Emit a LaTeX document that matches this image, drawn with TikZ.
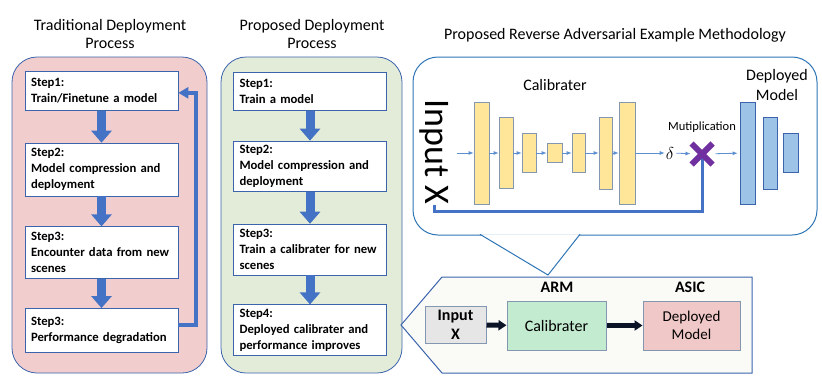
\documentclass[tikz,border=0pt]{standalone}
\usepackage{fontspec}
\setmainfont{Carlito}
\usetikzlibrary{arrows.meta,positioning,shapes.misc}
\definecolor{Blue}{HTML}{4472C4}
\definecolor{SoftBlue}{HTML}{5B8FD0}
\definecolor{Frame}{HTML}{3B64AD}
\definecolor{CalloutLine}{HTML}{2E75B6}
\definecolor{PanelPink}{HTML}{F2CDCD}
\definecolor{PanelGreen}{HTML}{E2ECD8}
\definecolor{Gold}{HTML}{FFE699}
\definecolor{GoldLine}{HTML}{8497B0}
\definecolor{Sky}{HTML}{9DC3E6}
\definecolor{Purple}{HTML}{7030A0}
\definecolor{Mint}{HTML}{C3EBD0}
\definecolor{Rose}{HTML}{F1C8C8}
\definecolor{Stone}{HTML}{E6E6E6}
\definecolor{Paper}{HTML}{FAFBF7}
\definecolor{Ink}{HTML}{0B1426}
\tikzset{
  panel/.style={rounded corners=25pt,draw=Frame,line width=0.8pt,minimum height=316pt,inner sep=0pt},
  heading/.style={align=center,font=\fontsize{16}{18.5}\selectfont},
  stepbox/.style={draw=Frame,fill=white,line width=0.7pt,text width=141pt,inner xsep=6pt,inner ysep=4pt,align=left,font=\fontsize{12.7}{16}\selectfont\bfseries},
  blockarrow/.style={-{Triangle[length=12pt,width=20pt]},line width=9pt,draw=Blue},
  feedback/.style={-{Triangle[length=10pt,width=11pt]},line width=4pt,draw=Blue},
  calloutbox/.style={rounded corners=25pt,draw=CalloutLine,fill=white,line width=1pt,inner sep=0pt},
  calloutpointer/.style={draw=CalloutLine,fill=white,line width=1pt},
  goldbar/.style={draw=GoldLine,fill=Gold,line width=0.8pt,inner sep=0pt},
  skybar/.style={draw=Frame,fill=Sky,line width=0.8pt,inner sep=0pt},
  thinarrow/.style={-{Latex[length=5pt,width=4pt]},draw=SoftBlue,line width=0.8pt},
  skipline/.style={draw=Blue,line width=3pt},
  mult/.style={cross out,draw=Purple,line width=6pt,minimum size=15pt,inner sep=0pt},
  labeltext/.style={align=center,font=\fontsize{16}{20}\selectfont},
  hwframe/.style={draw=Frame,fill=Paper,line width=1pt},
  hwbox/.style={draw=GoldLine,line width=1pt,align=center,font=\fontsize{15}{18}\selectfont},
  hwarrow/.style={-{Triangle[length=8pt,width=10pt]},line width=5pt,draw=Ink}
}
\begin{document}
\begin{tikzpicture}[x=1pt,y=1pt,node distance=30pt]
  \useasboundingbox (0,0) rectangle (822,-391);

  \node[heading] (tradtitle) at (110,-34) {Traditional Deployment\\Process};
  \node[heading] (proptitle) at (312,-34) {Proposed Deployment\\Process};
  \node[heading] (methodtitle) at (615,-35) {Proposed Reverse Adversarial Example Methodology};

  \node[panel,fill=PanelPink,minimum width=195pt] (trad) at (109.5,-215) {};
  \node[panel,fill=PanelGreen,minimum width=181pt] (prop) at (311.5,-215) {};

  \node[stepbox,anchor=north,minimum height=39pt] (t1) at (101.5,-71) {Step1:\\Train/Finetune a model};
  \node[stepbox,minimum height=53pt,below=32pt of t1] (t2) {Step2:\\Model compression and\\deployment};
  \node[stepbox,minimum height=52pt,below=of t2] (t3) {Step3:\\Encounter data from new\\scenes};
  \node[stepbox,minimum height=44pt,below=29pt of t3] (t4) {Step3:\\Performance degradation\\[4pt]};

  \node[stepbox,anchor=north,minimum height=38pt] (m1) at (310,-72) {Step1:\\Train a model};
  \node[stepbox,minimum height=50pt,below=of m1] (m2) {Step2:\\Model compression and\\deployment};
  \node[stepbox,minimum height=51pt,below=32pt of m2] (m3) {Step3:\\Train a calibrater for new\\scenes};
  \node[stepbox,minimum height=51pt,below=29pt of m3] (m4) {Step4:\\Deployed calibrater and\\performance improves};

  \foreach \a/\b in {t1/t2,t2/t3,t3/t4,m1/m2,m2/m3,m3/m4}{
    \draw[blockarrow] (\a) -- (\b);
  }
  \draw[feedback] ([yshift=5pt]t4.east) -- ++(18pt,0) |- ([yshift=-2pt]t1.east);

  \node[calloutbox,minimum width=404pt,minimum height=178pt] (method) at (615,-146) {};
  \coordinate (tip) at (548,-275);
  \path[calloutpointer] (480,-234.3) -- (tip) -- (580,-234.3);

  \node[labeltext] (callabel) at (555,-85) {Calibrater};
  \node[labeltext] (deplabel) at (777,-85) {Deployed\\Model};
  \node[rotate=-90,inner sep=0pt,font=\fontsize{36}{36}\selectfont] (inx) at (434,-152) {Input X};

  \foreach \n/\x/\w/\h in {c1/481.5/15/102,c2/506/14/71,c3/529/14/39,c4/554.5/15/19,c5/578.5/13/39,c6/605.5/13/72,c7/627/16/102}{
    \node[goldbar,minimum width=\w pt,minimum height=\h pt] (\n) at (\x,-153) {};
  }
  \foreach \n/\x/\w/\h in {d1/747.5/15/102,d2/770/14/72,d3/790.5/15/39}{
    \node[skybar,minimum width=\w pt,minimum height=\h pt] (\n) at (\x,-153) {};
  }

  \coordinate (inflow) at (457,-153);
  \foreach \a/\b in {inflow/c1,c1/c2,c2/c3,c3/c4,c4/c5,c5/c6,c6/c7}{
    \draw[thinarrow] (\a) -- (\b);
  }
  \node[inner sep=1pt,font=\fontsize{16}{16}\selectfont] (delta) at (670,-153) {$\delta$};
  \draw[thinarrow] (c7) -- (delta);

  \coordinate (mulpos) at (702,-154);
  \coordinate (skipturn) at (702,-211);
  \draw[skipline] (inx.east) |- (skipturn) -- (mulpos);
  \node[mult] (mul) at (mulpos) {};
  \node[font=\fontsize{12.5}{14}\selectfont,above=7pt of mul] (multlabel) {Mutiplication};
  \draw[thinarrow,shorten <=1pt,shorten >=1pt] (delta) -- (mul);
  \draw[thinarrow,shorten <=3pt,shorten >=2pt] (mul) -- (d1);

  \draw[hwframe] (401,-325) -- (442,-277) -- (752,-277) -- (752,-373) -- (442,-373) -- cycle;
  \node[hwbox,fill=Stone,minimum width=61pt,minimum height=36pt,font=\fontsize{16}{19}\selectfont\bfseries] (hwin) at (455.5,-325) {Input\\X};
  \node[hwbox,fill=Mint,minimum width=99pt,minimum height=49pt,font=\fontsize{16}{18}\selectfont] (hwcal) at (556.5,-325.5) {Calibrater};
  \node[hwbox,fill=Rose,minimum width=97pt,minimum height=49pt] (hwdep) at (691.5,-325.5) {Deployed\\Model};
  \node[font=\fontsize{16}{18}\selectfont\bfseries] (arm) at (557,-287) {ARM};
  \node[font=\fontsize{16}{18}\selectfont\bfseries] (asic) at (690,-287) {ASIC};

  \draw[hwarrow] (hwin) -- (hwcal);
  \draw[hwarrow] (hwcal) -- (hwdep);
\end{tikzpicture}
\end{document}
